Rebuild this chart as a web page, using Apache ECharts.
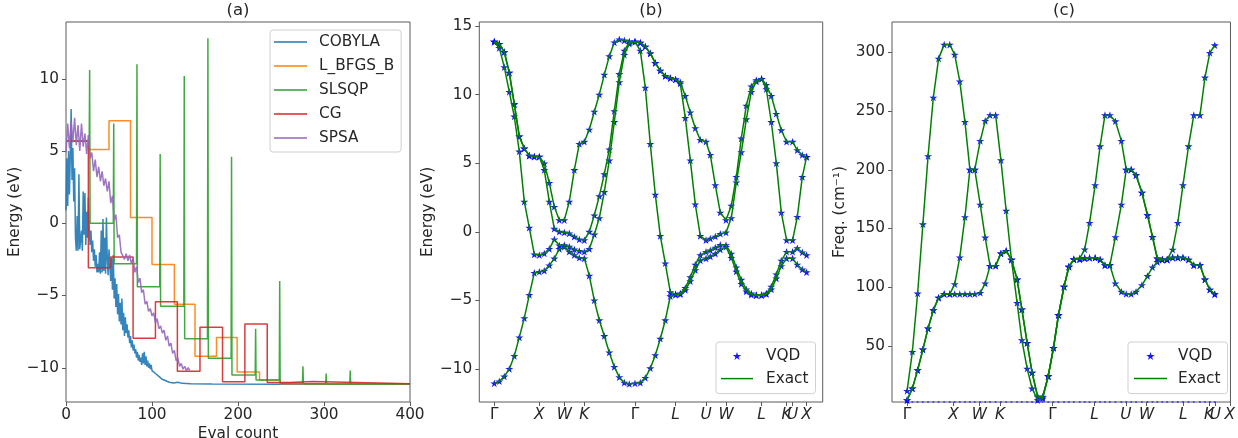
<!DOCTYPE html>
<html><head><meta charset="utf-8">
<script src="https://cdn.jsdelivr.net/npm/echarts@6.0.0/dist/echarts.min.js"></script>
<style>html,body{margin:0;padding:0;background:#fff}#c{width:1238px;height:438px}</style>
</head><body><div id="c"></div>
<script>
// ---------------- Panel (a): optimizer convergence ----------------
const evalTicks = [0, 100, 200, 300, 400];
const energyTicksA = [-10, -5, 0, 5, 10];
// COBYLA: value at eval count 0..100 (step 1), then sparse tail [eval, energy]
const cobylaHead = [0.9,4.5,1.2,5.0,2.0,4.8,7.9,3.0,5.2,1.5,
 3.8,-1.0,-1.9,0.5,-1.9,3.4,-1.8,-1.9,-0.5,-1.9,
 2.2,-0.8,2.1,-1.5,0.8,-1.0,1.8,-0.3,-1.5,-0.5,
 -2.0,-1.2,-2.6,-1.8,-3.0,-2.2,-3.4,-2.8,-3.4,-2.0,
 -3.5,-0.5,-3.4,0.3,-3.3,-1.0,-3.5,0.4,-2.5,-3.6,
 -1.8,-3.0,-4.0,-2.4,-4.6,-2.2,-5.2,-3.8,-5.8,-4.2,
 -6.3,-4.9,-6.8,-5.5,-7.0,-5.2,-7.4,-6.2,-7.8,-6.5,
 -7.6,-7.0,-7.9,-7.4,-8.3,-7.8,-8.6,-8.1,-8.8,-8.4,
 -9.0,-8.7,-9.3,-8.9,-9.5,-9.1,-9.6,-9.3,-9.8,-9.0,
 -9.7,-8.9,-9.8,-9.2,-9.9,-9.5,-10.0,-9.7,-10.1,-9.8,
 -10.2];
const cobylaTail = [[102,-10.1],[104,-10.4],[106,-10.3],[108,-10.6],[110,-10.5],[112,-10.8],[114,-10.7],[116,-10.9],[118,-10.85],[120,-11.0],[122,-10.9],[125,-11.05],[130,-11.0],[135,-11.08],[145,-11.1],[170,-11.13],[250,-11.15],[400,-11.15]];
const lbfgsb = [[0,5.7],[27,5.7],[27,5.1],[50,5.1],[50,7.1],[75,7.1],[75,0.4],[100,0.4],[100,-2.85],[126,-2.85],[126,-5.6],[150,-5.6],[150,-9.2],[175,-9.2],[175,-7.9],[199,-7.9],[199,-10.3],[225,-10.3],[225,-10.85],[249,-10.85],[249,-11.1],[400,-11.12]];
const slsqp = [[0,5.7],[27,5.7],[27.5,10.6],[28,0.0],[55,0.0],[55.5,6.9],[56,-2.8],[82,-2.8],[82.5,11.0],[83,-4.4],[109,-4.4],[109.5,4.8],[110,-5.75],[137,-5.75],[137.5,10.2],[138,-8.0],[164.5,-8.0],[165,12.8],[165.5,-9.35],[192,-9.35],[192.5,4.6],[193,-10.5],[220,-10.5],[220.5,-7.3],[221,-10.85],[248,-10.85],[248.5,-4.0],[249,-11.05],[275,-11.05],[275.5,-9.9],[276,-11.1],[302,-11.1],[302.5,-10.4],[303,-11.12],[330,-11.12],[330.5,-10.2],[331,-11.12],[400,-11.12]];
const cg = [[0,5.7],[26,5.7],[26,-3.07],[52,-3.07],[52,-2.33],[78,-2.33],[78,-7.95],[104,-7.95],[104,-5.43],[129.5,-5.43],[129.5,-10.25],[155.8,-10.25],[155.8,-7.2],[182,-7.2],[182,-10.96],[208,-10.96],[208,-6.97],[234,-6.97],[234,-11.02],[260,-11.02],[260,-10.95],[287,-10.95],[287,-11.08],[400,-11.1]];
// SPSA: value at eval count 0,2,4,...,144
const spsaStep = 2;
const spsa = [4.9,6.9,5.2,7.1,5.6,7.3,5.4,6.8,5.0,6.9,
 5.3,6.2,4.8,6.1,4.5,4.9,3.6,4.4,3.2,3.9,
 2.9,3.6,2.6,3.1,2.2,2.9,1.4,1.9,0.2,0.6,
 -1.0,-0.8,-2.0,-1.9,-2.5,-2.1,-2.6,-2.2,-2.8,-2.4,
 -3.4,-3.0,-4.1,-3.8,-4.8,-4.6,-5.6,-5.4,-6.1,-5.9,
 -6.4,-6.2,-6.9,-6.6,-7.3,-7.1,-7.6,-7.4,-8.1,-7.8,
 -8.5,-8.3,-9.0,-8.8,-9.5,-9.3,-9.9,-9.7,-10.1,-9.9,
 -10.2,-10.0,-10.2];

// ---------------- k-path (shared by b and c) ----------------
const kTicks = [0, 45, 70, 90, 140.7, 181.3, 211.7, 231.7, 267.3, 292.3, 298.3, 312.3];
const kLabels = ['Γ','X','W','K','Γ','L','U','W','L','K','U','X'];

// ---------------- Panel (b): electronic bands (eV) ----------------
const energyTicksB = [-10, -5, 0, 5, 10, 15];
const kB = [0,5,10,15,20,25,30,35,40,45, 50,55,60,65,70, 75,80,85,90,
 95,100,105,110,115,120,125,130,135,140.7, 146,151,156,161,166,171,176,181.3,
 186,191,196,201,206,211.7, 216,221,226,231.7, 237,242,247,252,257,262,267.3,
 272,277,282,287,292.3, 298.3, 303,308,312.3];
const band1 = [-11.05,-10.9,-10.55,-10.0,-9.05,-7.7,-6.3,-4.6,-3.0,-2.92, -2.84,-2.45,-1.95,-1.25,-1.1, -1.45,-1.7,-1.9,-1.94,
 -3.2,-5.0,-6.45,-7.6,-8.8,-9.85,-10.6,-11.0,-11.1,-11.05, -11.0,-10.65,-9.95,-9.0,-7.8,-6.45,-4.7,-4.6,
 -4.55,-4.25,-3.6,-2.8,-2.1,-1.94, -1.8,-1.6,-1.3,-1.1, -1.9,-2.9,-3.8,-4.35,-4.6,-4.65,-4.65,
 -4.55,-4.2,-3.4,-2.5,-1.94, -1.94, -2.4,-2.75,-2.95];
const band2 = [13.85,13.4,12.0,10.2,8.4,5.85,2.2,0.3,-1.65,-1.7, -1.58,-1.25,-0.55,-1.0,-0.97, -1.09,-1.29,-1.4,-1.46,
 -1.25,-0.2,1.0,2.9,5.2,8.0,10.9,12.9,13.7,13.85, 13.2,10.5,6.4,2.7,-0.3,-2.3,-4.4,-4.55,
 -4.5,-4.1,-3.3,-2.4,-1.7,-1.46, -1.35,-1.15,-0.95,-0.97, -1.6,-2.6,-3.5,-4.2,-4.5,-4.6,-4.6,
 -4.5,-4.0,-3.1,-2.1,-1.46, -1.46, -1.2,-1.5,-1.7];
const band3 = [13.85,13.7,13.1,11.6,9.3,6.95,6.07,5.55,5.48,5.47, 4.5,2.19,0.22,0.0,-0.05, -0.12,-0.36,-0.56,-0.61,
 0.0,1.2,2.6,4.2,6.0,8.8,11.5,13.2,13.8,13.85, 13.78,13.5,13.0,12.3,11.75,11.35,11.2,11.1,
 10.8,8.3,5.2,2.0,-0.3,-0.61, -0.5,-0.35,-0.15,-0.05, 1.0,3.6,5.8,8.2,10.2,10.95,11.15,
 10.4,8.0,5.0,1.4,-0.61, -0.61, 1.09,4.0,5.46];
const band4 = [13.85,13.7,13.1,11.6,9.3,6.95,6.07,5.55,5.48,5.47, 4.98,3.57,1.82,0.85,0.85, 2.2,4.5,6.4,6.56,
 7.45,8.75,10.0,11.45,12.8,13.8,14.02,13.95,13.87,13.85, 13.78,13.5,13.0,12.3,11.75,11.35,11.2,11.1,
 10.9,9.9,8.7,7.55,6.7,6.56, 5.6,3.4,1.4,0.85, 1.9,4.0,6.8,9.2,10.6,11.05,11.15,
 10.7,9.9,8.6,7.4,6.56, 6.56, 5.95,5.59,5.46];

// ---------------- Panel (c): phonon branches (cm^-1) ----------------
const freqTicks = [50, 100, 150, 200, 250, 300];
const kC = [0,5.1,10.2,15.3,20.3,25.4,30.5,35.9,41.3,46.1, 51,56,60.8,65.5,70.8,75.6,80.3,85.7,90.8,95.9,
 101,106.5,111.1,116.2,121,126.4,131.2,136.6,141.7,146.5, 151.9,156.6,161.4,167.1,171.9,176.6,182,186.8,191.5,196.3,
 201.6,207.4,212.1,216.9,221.6,227.3,232.7,237.5,242.2,247, 251.7,257,262,267,272.4,277.5,283.5,288.3,293,297.8];
const phon0 = [0,0,0,0,0,0,0,0,0,0, 0,0,0,0,0,0,0,0,0,0, 0,0,0,0,0,0,0,0,0,0, 0,0,0,0,0,0,0,0,0,0, 0,0,0,0,0,0,0,0,0,0, 0,0,0,0,0,0,0,0,0,0];
const phon1 = [3.7,13.7,29.3,46.9,64.8,80.4,91.0,94.1,94.1,94.1, 94.1,94.1,94.1,94.1,95.2,103.2,118.2,118.2,128.7,131.0,
 123.5,86.6,54.8,30.6,13.6,3.7,5.0,24.1,48.3,76.2, 100.4,117.4,123.7,123.7,124.7,125.0,125.0,123.5,118.7,118.7,
 103.2,96.1,94.1,94.1,96.1,101.8,109.5,116.9,121.5,123.5, 123.5,125.2,125.2,125.2,123.5,118.7,118.7,106.5,97.9,94.0];
const phon2 = [3.7,13.7,29.3,46.9,64.8,80.4,91.0,94.1,94.1,102.6, 125.3,159.7,200.2,200.2,170.4,142.3,118.2,118.2,128.7,131.0,
 123.5,106.5,81.0,52.5,27.2,6.6,6.0,24.1,48.3,76.2, 100.4,117.4,123.7,123.7,124.7,125.0,125.0,123.5,118.7,118.7,
 142.6,170.4,200.2,200.2,195.4,180.6,161.3,142.9,124.4,123.5, 123.5,125.2,125.2,125.2,123.5,118.7,118.7,106.5,97.9,94.0];
const phon3 = [11.6,44.9,94.6,153.6,211.6,261.6,294.8,306.7,306.7,298.2, 275.4,240.9,200.2,200.2,224.7,241.7,246.6,246.6,208.2,165.1,
 123.5,106.5,81.0,52.5,27.2,6.6,6.6,24.1,48.3,76.2, 100.4,117.4,123.7,124.5,132.2,154.8,186.9,220.1,246.6,246.6,
 241.4,224.7,200.2,200.2,195.4,180.6,161.3,142.9,124.4,123.5, 123.5,132.0,154.8,186.9,220.1,246.6,246.6,278.7,299.7,306.2];

// ---------------- styling ----------------
const FONT = 'DejaVu Sans';
const TXT = '#262626';
const AX = '#5a5a5a';
const FS = 15.3;
const STAR = 'path://M0,-10L2.245,-3.09L9.511,-3.09L3.633,1.18L5.878,8.09L0,3.82L-5.878,8.09L-3.633,1.18L-9.511,-3.09L-2.245,-3.09Z';
const LINE_ICON = 'path://M0,0H22V1H0Z';
const A_Y = [-12.37, 13.93], B_Y = [-12.41, 15.29], C_Y = [2.1, 326];
const fmtNum = v => (v < 0 ? '\u2212' + Math.abs(v) : String(v));
const kFmt = v => {
  let i = kTicks.indexOf(v);
  if (i < 0) { let best = 1e9; kTicks.forEach((t, j) => { if (Math.abs(t - v) < best) { best = Math.abs(t - v); i = j; } }); }
  const s = kLabels[i];
  return s === 'Γ' ? '{g|Γ}' : '{i|' + s + '}';
};
const kRich = { g: { fontFamily: FONT, fontSize: FS, color: TXT }, i: { fontFamily: FONT, fontSize: FS, color: TXT, fontStyle: 'italic' } };

function xAx(grid, min, max, ticks, extra) {
  return Object.assign({
    gridIndex: grid, type: 'value', min: min, max: max, position: 'bottom',
    axisLine: { show: false, onZero: false }, splitLine: { show: false },
    axisTick: { show: true, customValues: ticks, length: 4, lineStyle: { color: AX, width: 1 } },
    axisLabel: { customValues: ticks, margin: 6, fontSize: FS, fontFamily: FONT, color: TXT, formatter: fmtNum, hideOverlap: false }
  }, extra || {});
}
function yAx(grid, ext, ticks, name, gap) {
  return {
    gridIndex: grid, type: 'value', min: ext[0], max: ext[1], position: 'left',
    axisLine: { show: false, onZero: false }, splitLine: { show: false },
    axisTick: { show: true, customValues: ticks, length: 4, lineStyle: { color: AX, width: 1 } },
    axisLabel: { customValues: ticks, margin: 7, fontSize: FS, fontFamily: FONT, color: TXT, formatter: fmtNum },
    name: name, nameLocation: 'middle', nameGap: gap,
    nameTextStyle: { fontSize: FS, fontFamily: FONT, color: TXT }
  };
}

const series = [];
const pal = { blue: '#1f77b4', orange: '#ff7f0e', green: '#2ca02c', red: '#d62728', purple: '#9467bd' };
function lineA(name, data, color) {
  series.push({ name: name, type: 'line', xAxisIndex: 0, yAxisIndex: 0, data: data, symbol: 'none', showSymbol: false,
    lineStyle: { width: 1.5, color: color, opacity: 0.9 }, itemStyle: { color: color }, silent: true });
}
lineA('COBYLA', cobylaHead.map((v, i) => [i, v]).concat(cobylaTail), pal.blue);
lineA('L_BFGS_B', lbfgsb, pal.orange);
lineA('SLSQP', slsqp, pal.green);
lineA('CG', cg, pal.red);
lineA('SPSA', spsa.map((v, i) => [i * spsaStep, v]), pal.purple);

function bandSeries(axisIdx, ks, bands) {
  bands.forEach(b => {
    series.push({ name: 'VQD', type: 'scatter', xAxisIndex: axisIdx, yAxisIndex: axisIdx,
      data: ks.map((k, j) => [k, b[j]]), symbol: STAR, symbolSize: 8, symbolKeepAspect: true,
      itemStyle: { color: '#0a0aff', opacity: 0.95 }, z: 2, silent: true });
  });
  bands.forEach(b => {
    series.push({ name: 'Exact', type: 'line', xAxisIndex: axisIdx, yAxisIndex: axisIdx,
      data: ks.map((k, j) => [k, b[j]]), symbol: 'none', showSymbol: false,
      lineStyle: { width: 1.5, color: '#008000' }, itemStyle: { color: '#008000' }, z: 3, silent: true });
  });
}
bandSeries(1, kB, [band1, band2, band3, band4]);
bandSeries(2, kC, [phon1, phon2, phon3]);
// zero-frequency branch: stars at 0 are clipped to the bottom edge of the axes
series.push({ name: 'VQD0', type: 'scatter', xAxisIndex: 2, yAxisIndex: 2, clip: false,
  data: kC.map((k, j) => [k, Math.max(phon0[j], C_Y[0])]), symbol: 'circle', symbolSize: 2.2,
  itemStyle: { color: '#2a2aff' }, z: 1, silent: true });

const legendBase = {
  orient: 'vertical', borderColor: '#d0d0d0', borderWidth: 1, borderRadius: 3,
  backgroundColor: 'rgba(255,255,255,0.85)', selectedMode: false,
  textStyle: { fontSize: FS, fontFamily: FONT, color: TXT, lineHeight: 16 }
};
const titleStyle = t => ({ text: t, font: '16.5px "DejaVu Sans"', fill: TXT, align: 'center', verticalAlign: 'middle' });
const option = {
  animation: false,
  backgroundColor: '#ffffff',
  grid: [
    { left: 66, top: 22, width: 344, height: 380, show: true, borderColor: AX, borderWidth: 1, backgroundColor: 'transparent' },
    { left: 479.3, top: 22, width: 343.4, height: 380, show: true, borderColor: AX, borderWidth: 1, backgroundColor: 'transparent' },
    { left: 892, top: 22, width: 344, height: 380, show: true, borderColor: AX, borderWidth: 1, backgroundColor: 'transparent' }
  ],
  xAxis: [
    xAx(0, 0, 400, evalTicks),
    xAx(1, -15, 328.4, kTicks, { axisLabel: { customValues: kTicks, margin: 6, formatter: kFmt, rich: kRich, hideOverlap: false } }),
    xAx(2, -14.6, 313, kTicks, { axisLabel: { customValues: kTicks, margin: 6, formatter: kFmt, rich: kRich, hideOverlap: false } })
  ],
  yAxis: [
    yAx(0, A_Y, energyTicksA, 'Energy (eV)', 43),
    yAx(1, B_Y, energyTicksB, 'Energy (eV)', 44),
    yAx(2, C_Y, freqTicks, 'Freq. (cm\u207B\u00B9)', 44)
  ],
  legend: [
    Object.assign({}, legendBase, { left: 270, top: 30, itemWidth: 33, itemHeight: 14, itemGap: 8,
      padding: [4, 7, 6, 4], textStyle: Object.assign({}, legendBase.textStyle, { padding: [0, 0, 0, 7] }),
      data: ['COBYLA', 'L_BFGS_B', 'SLSQP', 'CG', 'SPSA'].map(n => ({ name: n, icon: LINE_ICON })) }),
    Object.assign({}, legendBase, { left: 716, top: 342, itemWidth: 32, itemHeight: 8, itemGap: 6.6,
      padding: [6, 7, 7, 5], textStyle: Object.assign({}, legendBase.textStyle, { padding: [0, 0, 0, 8] }),
      data: [{ name: 'VQD', icon: STAR }, { name: 'Exact', icon: LINE_ICON }] }),
    Object.assign({}, legendBase, { left: 1128, top: 342, itemWidth: 33, itemHeight: 8, itemGap: 6.6,
      padding: [6, 7, 7, 6], textStyle: Object.assign({}, legendBase.textStyle, { padding: [0, 0, 0, 6] }),
      data: [{ name: 'VQD', icon: STAR }, { name: 'Exact', icon: LINE_ICON }] })
  ],
  graphic: [
    { type: 'text', x: 238, y: 11, style: titleStyle('(a)') },
    { type: 'text', x: 651, y: 11, style: titleStyle('(b)') },
    { type: 'text', x: 1064, y: 11, style: titleStyle('(c)') },
    { type: 'text', x: 238, y: 434, style: { text: 'Eval count', font: FS + 'px "DejaVu Sans"', fill: TXT, align: 'center', verticalAlign: 'middle' } }
  ],
  series: series
};
const chart = echarts.init(document.getElementById('c'), null, { renderer: 'canvas', width: 1238, height: 438 });
chart.setOption(option);
</script></body></html>
